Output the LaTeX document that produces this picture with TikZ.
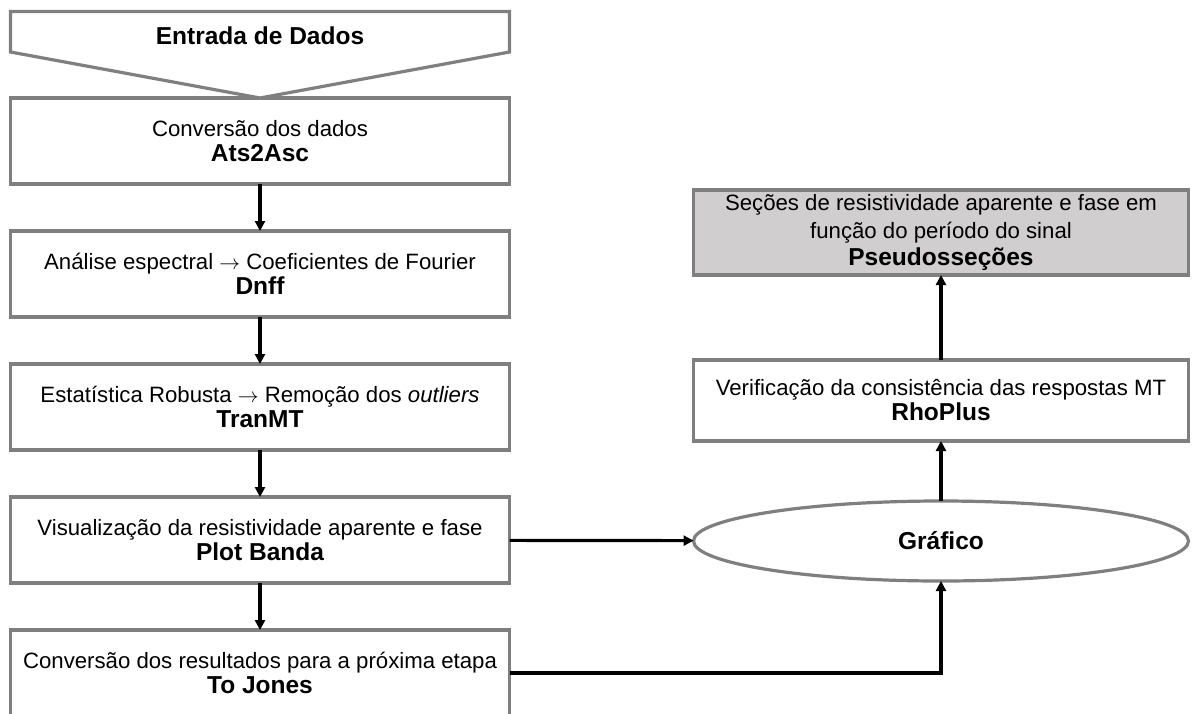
\documentclass[tikz,border=0pt]{standalone}
\usepackage{fontspec}
\setmainfont{Liberation Sans}
\usepackage{tikz}
\usetikzlibrary{shapes.geometric, arrows.meta, positioning}
\definecolor{bordergray}{RGB}{127,127,127}
\definecolor{fillgray}{RGB}{208,206,206}
\tikzstyle{block} = [rectangle, draw=bordergray, line width=3.2pt, fill=white, text centered, align=center, minimum height=86pt, minimum width=499pt, inner sep=0pt, outer sep=0pt, font=\fontsize{22.2}{25}\selectfont]
\tikzstyle{rblock} = [block, minimum width=495pt]
\tikzstyle{plot} = [ellipse, draw=bordergray, line width=3.2pt, fill=white, text centered, minimum height=80pt, minimum width=495pt, inner sep=0pt, outer sep=0pt]
\tikzstyle{frame} = [draw=bordergray, line width=3.2pt, fill=white]
\tikzstyle{arrow} = [line width=3.2pt, -{Triangle[length=10pt,width=10pt]}]
\newcommand{\prog}[1]{{\fontsize{24.5}{25}\selectfont\bfseries #1}}
\newcommand{\seta}{$\rightarrow$}

\begin{document}
\begin{tikzpicture}[x=1pt, y=1pt, node distance=47pt]
    \useasboundingbox (0,0) rectangle (1192,-713);

    % Processing chain
    \node (conv) [block] at (260,-141) {Conversão dos dados\\\prog{Ats2Asc}};
    \node (dnff) [block, below=of conv] {Análise espectral \seta{} Coeficientes de Fourier\\\prog{Dnff}};
    \node (tranmt) [block, below=of dnff] {Estatística Robusta \seta{} Remoção dos \textit{outliers}\\\prog{TranMT}};
    \node (banda) [block, below=of tranmt] {Visualização da resistividade aparente e fase\\\prog{Plot Banda}};
    \node (jones) [block, below=of banda] {Conversão dos resultados para a próxima etapa\\\prog{To Jones}};

    % Input
    \draw [frame] (conv.north) -- ++(-249.5,46) -- ++(0,40.5) -- ++(499,0) -- ++(0,-40.5) -- cycle;
    \node (entrada) at (260,-36) {\prog{Entrada de Dados}};

    % Results
    \node (graf) [plot] at (941,-541) {\prog{Gráfico}};
    \node (rho) [rblock, minimum height=81pt, above=60pt of graf] {Verificação da consistência das respostas MT\\\prog{RhoPlus}};
    \node (pseudo) [rblock, fill=fillgray, minimum height=85pt, above=85pt of rho, font=\fontsize{22.2}{27.5}\selectfont] {Seções de resistividade aparente e fase em\\função do período do sinal\\\prog{Pseudosseções}};

    % ==== Arrows
    \draw [arrow] (conv) -- (dnff);
    \draw [arrow] (dnff) -- (tranmt);
    \draw [arrow] (tranmt) -- (banda);
    \draw [arrow] (banda) -- (jones);

    \draw [arrow] (banda) -- (graf);
    \draw [arrow] (jones.east) -| (graf.south);
    \draw [arrow] (graf) -- (rho);
    \draw [arrow] (rho) -- (pseudo);

\end{tikzpicture}
\end{document}
